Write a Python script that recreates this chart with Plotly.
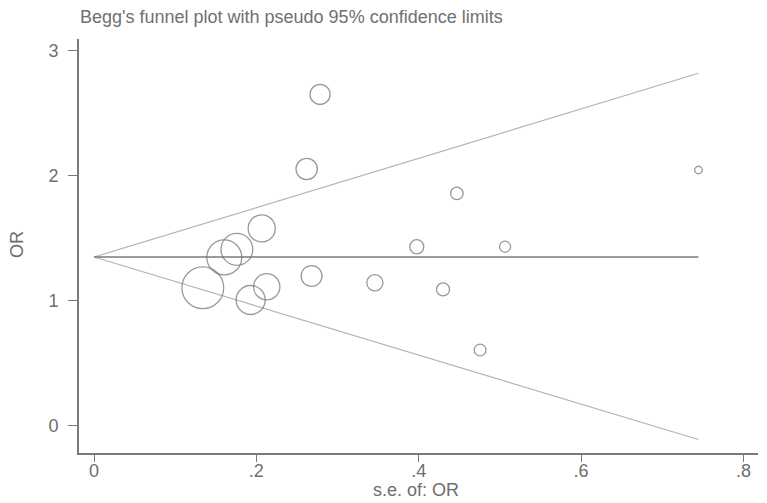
import plotly.graph_objects as go

# Study data
se_or = [0.134, 0.1605, 0.176, 0.193, 0.2066, 0.2128, 0.262, 0.268, 0.2785,
         0.346, 0.3976, 0.430, 0.447, 0.4756, 0.5064, 0.7446]
or_vals = [1.104, 1.347, 1.411, 1.006, 1.579, 1.112, 2.054, 1.198, 2.651,
           1.144, 1.432, 1.091, 1.859, 0.606, 1.432, 2.046]

# Pooled estimate and pseudo 95% confidence limit endpoints
pooled_x = [0, 0.7446]
pooled_y = [1.35, 1.35]
limit_x = [0, 0.7446]
upper_y = [1.35, 2.82]
lower_y = [1.35, -0.11]

x_ticks = [0, 0.2, 0.4, 0.6, 0.8]
x_tick_text = ["0", ".2", ".4", ".6", ".8"]
y_ticks = [0, 1, 2, 3]
y_tick_text = ["0", "1", "2", "3"]

# symbol size ~ inverse standard error (weight)
sizes = [5.6 / s for s in se_or]

FONT = "Liberation Sans, Arial, sans-serif"
GREY = "#6e6e6e"

# the page body has an 8px default margin; the figure is sized to fit the window
OFF = 8
W, H = 767 - OFF, 503 - OFF
L, R, T, B = 79 - OFF, 9, 39 - OFF, 50
PW, PH = W - L - R, H - T - B

fig = go.Figure()
fig.add_trace(go.Scatter(x=limit_x, y=upper_y, mode="lines",
                         line=dict(color="#b4b4b4", width=1.2), hoverinfo="skip"))
fig.add_trace(go.Scatter(x=limit_x, y=lower_y, mode="lines",
                         line=dict(color="#b4b4b4", width=1.2), hoverinfo="skip"))
fig.add_trace(go.Scatter(x=pooled_x, y=pooled_y, mode="lines",
                         line=dict(color="#7a7a7a", width=1.5), hoverinfo="skip"))
fig.add_trace(go.Scatter(x=se_or, y=or_vals, mode="markers",
                         marker=dict(symbol="circle-open", size=sizes, color="#6e6e6e",
                                     line=dict(width=1.3))))

tick_font = dict(family=FONT, size=18, color=GREY)

fig.update_layout(
    width=W, height=H,
    margin=dict(l=L, r=R, t=T, b=B, autoexpand=False),
    paper_bgcolor="white", plot_bgcolor="white",
    showlegend=False,
    title=dict(text="Begg's funnel plot with pseudo 95% confidence limits",
               x=(80 - OFF) / W, xanchor="left", y=1 - (17 - OFF) / H, yanchor="middle",
               font=dict(family=FONT, size=18, color="#707070")),
    xaxis=dict(range=[-0.0185, 0.818], tickvals=x_ticks, ticktext=x_tick_text,
               showgrid=False, zeroline=False, showline=True, linecolor="#7a7a7a",
               linewidth=1.6, ticks="outside", ticklen=7, tickwidth=1.4, tickcolor="#7a7a7a",
               tickfont=tick_font, ticklabelstandoff=-6, automargin=False),
    yaxis=dict(range=[-0.218, 3.094], tickvals=y_ticks, ticktext=y_tick_text,
               showgrid=False, zeroline=False, showline=True, linecolor="#7a7a7a",
               linewidth=1.6, ticks="outside", ticklen=9, tickwidth=1.4, tickcolor="#7a7a7a",
               tickfont=tick_font, ticklabelstandoff=6, automargin=False),
    annotations=[
        dict(text="s.e. of: OR", xref="paper", yref="paper",
             x=(416 - 79) / PW, y=(453 - 490) / PH, xanchor="center", yanchor="middle",
             showarrow=False, font=tick_font),
        dict(text="OR", xref="paper", yref="paper", textangle=-90,
             x=(17 - 79) / PW, y=(453 - 245) / PH, xanchor="center", yanchor="middle",
             showarrow=False, font=tick_font),
    ],
)

fig.write_html("out.html")
